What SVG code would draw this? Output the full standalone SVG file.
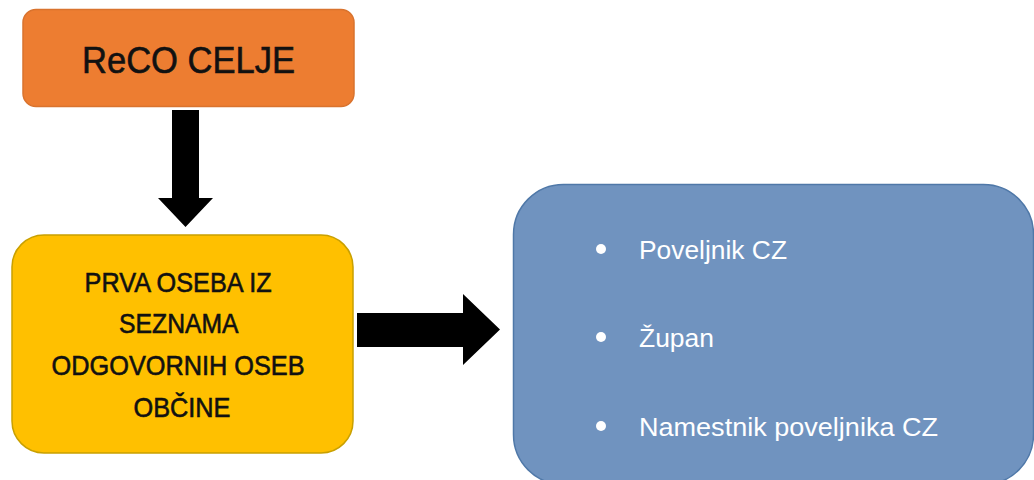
<svg xmlns="http://www.w3.org/2000/svg" width="1034" height="480" viewBox="0 0 1034 480">
<style>
.box{stroke-width:1.5}
.t{font-family:"Liberation Sans",Arial,sans-serif;text-anchor:middle;fill:#111;stroke:#111;stroke-width:0.6}
.li{font-family:"Liberation Sans",Arial,sans-serif;fill:#fff;font-size:25px}
.arrow{fill:#000}
</style>
<rect width="1034" height="480" fill="#fff"/>
<g id="connectors">
<path class="arrow" d="M172,110 H199 V198 H213 L185.5,227 L158,198 H172 Z"/>
<path class="arrow" d="M357,313 H463 V294 L500,329.5 L463,365 V347 H357 Z"/>
</g>
<g id="reco">
<rect class="box" x="23" y="9.5" width="331" height="97" rx="13" fill="#ED7D31" stroke="#D9732E"/>
<text class="t" x="188.5" y="73" font-size="37" textLength="213" lengthAdjust="spacingAndGlyphs">ReCO CELJE</text>
</g>
<g id="prva">
<rect class="box" x="12" y="235" width="341" height="218" rx="32" fill="#FFC000" stroke="#C9A000"/>
<text class="t" font-size="28">
<tspan x="182" y="292" textLength="187" lengthAdjust="spacingAndGlyphs">PRVA OSEBA IZ</tspan>
<tspan x="182" y="333" textLength="118" lengthAdjust="spacingAndGlyphs">SEZNAMA</tspan>
<tspan x="182" y="375" textLength="253" lengthAdjust="spacingAndGlyphs">ODGOVORNIH OSEB</tspan>
<tspan x="182" y="417" textLength="97" lengthAdjust="spacingAndGlyphs">OBČINE</tspan>
</text>
</g>
<g id="list">
<rect class="box" x="513.5" y="184.5" width="520" height="300" rx="50" fill="#7093BF" stroke="#4F78A8"/>
<circle cx="601" cy="249" r="5" fill="#fff"/>
<circle cx="601" cy="337" r="5" fill="#fff"/>
<circle cx="601" cy="426" r="5" fill="#fff"/>
<text class="li" x="639" y="259" textLength="148" lengthAdjust="spacingAndGlyphs">Poveljnik CZ</text>
<text class="li" x="639" y="347" textLength="75" lengthAdjust="spacingAndGlyphs">Župan</text>
<text class="li" x="639" y="436" textLength="299" lengthAdjust="spacingAndGlyphs">Namestnik poveljnika CZ</text>
</g>
</svg>
